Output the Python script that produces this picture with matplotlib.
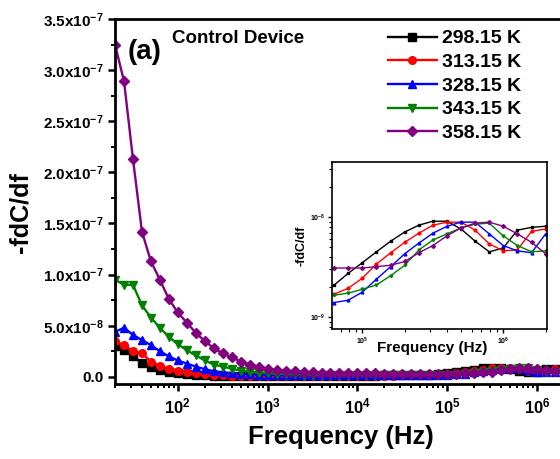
import matplotlib
matplotlib.use("Agg")
import matplotlib.pyplot as plt
from matplotlib.ticker import FixedLocator, NullFormatter, LogLocator
import numpy as np

# Frequency sweep (Hz)
freq = [20.0, 25.2, 31.7, 39.9, 50.2, 63.2, 79.6, 100, 126, 159,
        200, 252, 317, 399, 502, 632, 796, 1000, 1260, 1590,
        2000, 2520, 3170, 3990, 5020, 6320, 7960, 10000, 12600, 15900,
        20000, 25200, 31700, 39900, 50200, 63200, 79600, 100000, 126000, 159000,
        200000, 252000, 317000, 399000, 502000, 632000, 796000, 1000000, 1260000, 1590000,
        2000000]

# -fdC/df values in units of 1e-8
t298 = [3.0, 2.6, 2.0, 1.4, 0.95, 0.65, 0.5, 0.35, 0.25, 0.2,
        0.15, 0.13, 0.12, 0.11, 0.10, 0.10, 0.10, 0.10, 0.10, 0.10,
        0.10, 0.10, 0.10, 0.10, 0.10, 0.11, 0.11, 0.12, 0.12, 0.13,
        0.14, 0.15, 0.16, 0.18, 0.19, 0.21, 0.275, 0.35, 0.45, 0.575,
        0.71, 0.83, 0.91, 0.91, 0.76, 0.575, 0.45, 0.49, 0.74, 0.79,
        0.81]
t313 = [3.5, 3.1, 2.5, 2.3, 1.5, 1.1, 0.8, 0.6, 0.45, 0.35,
        0.25, 0.2, 0.15, 0.13, 0.12, 0.11, 0.10, 0.10, 0.10, 0.10,
        0.10, 0.10, 0.10, 0.10, 0.10, 0.10, 0.10, 0.10, 0.11, 0.11,
        0.12, 0.13, 0.14, 0.15, 0.16, 0.17, 0.195, 0.245, 0.34, 0.44,
        0.56, 0.69, 0.83, 0.89, 0.89, 0.74, 0.54, 0.46, 0.47, 0.72,
        0.76]
t328 = [4.4, 4.8, 4.1, 3.6, 3.1, 2.5, 2.0, 1.6, 1.3, 1.0,
        0.75, 0.55, 0.45, 0.35, 0.3, 0.25, 0.22, 0.2, 0.18, 0.17,
        0.16, 0.15, 0.15, 0.14, 0.14, 0.14, 0.14, 0.14, 0.14, 0.14,
        0.14, 0.14, 0.14, 0.14, 0.14, 0.14, 0.148, 0.178, 0.24, 0.32,
        0.43, 0.55, 0.69, 0.81, 0.89, 0.89, 0.68, 0.52, 0.46, 0.44,
        0.68]
t343 = [9.5, 9.0, 9.0, 7.0, 5.8, 4.8, 3.9, 3.2, 2.6, 2.1,
        1.6, 1.2, 1.0, 0.8, 0.6, 0.5, 0.42, 0.36, 0.31, 0.27,
        0.24, 0.22, 0.2, 0.19, 0.18, 0.17, 0.17, 0.17, 0.16, 0.16,
        0.16, 0.16, 0.16, 0.16, 0.16, 0.166, 0.174, 0.19, 0.21, 0.26,
        0.33, 0.47, 0.59, 0.68, 0.78, 0.85, 0.87, 0.65, 0.52, 0.45,
        0.46]
t358 = [32.5, 28.9, 21.3, 14.2, 11.3, 9.5, 7.6, 6.3, 5.3, 4.3,
        3.5, 2.8, 2.3, 1.9, 1.5, 1.2, 1.0, 0.8, 0.7, 0.6,
        0.55, 0.5, 0.45, 0.42, 0.4, 0.38, 0.36, 0.35, 0.34, 0.33,
        0.32, 0.32, 0.31, 0.31, 0.31, 0.31, 0.31, 0.31, 0.32, 0.33,
        0.36, 0.44, 0.52, 0.65, 0.78, 0.87, 0.89, 0.81, 0.68, 0.56,
        0.43]

labels = ["298.15 K", "313.15 K", "328.15 K", "343.15 K", "358.15 K"]
colors = ["black", "red", "blue", "green", "purple"]
markers = ["s", "o", "^", "v", "D"]

yticks = [0, 5e-8, 1e-7, 1.5e-7, 2e-7, 2.5e-7, 3e-7, 3.5e-7]
ytick_labels = ["0.0", r"$5.0x10^{-8}$", r"$1.0x10^{-7}$", r"$1.5x10^{-7}$",
                r"$2.0x10^{-7}$", r"$2.5x10^{-7}$", r"$3.0x10^{-7}$", r"$3.5x10^{-7}$"]
xticks = [1e2, 1e3, 1e4, 1e5, 1e6]
xtick_labels = [r"$10^{2}$", r"$10^{3}$", r"$10^{4}$", r"$10^{5}$", r"$10^{6}$"]
inset_xticks = [1e5, 1e6]
inset_xtick_labels = [r"$10^{5}$", r"$10^{6}$"]
inset_yticks = [1e-9, 1e-8]
inset_ytick_labels = [r"$10^{-9}$", r"$10^{-8}$"]

plt.rcParams["font.family"] = ["Liberation Sans", "DejaVu Sans"]
plt.rcParams["font.weight"] = "bold"
plt.rcParams["mathtext.fontset"] = "custom"
plt.rcParams["mathtext.rm"] = "Liberation Sans:bold"
plt.rcParams["mathtext.bf"] = "Liberation Sans:bold"
plt.rcParams["mathtext.it"] = "Liberation Sans:bold"

series = [np.array(s) * 1e-8 for s in (t298, t313, t328, t343, t358)]

fig = plt.figure(figsize=(5.6, 4.59), dpi=100)
ax = fig.add_axes([0.2054, 0.1634, 0.805, 0.7952])

for y, lab, c, m in zip(series, labels, colors, markers):
    ms = 5.5 if m != "D" else 5
    ax.plot(freq, y, color=c, marker=m, markersize=ms, linewidth=1.7, label=lab)

ax.set_xscale("log")
ax.set_xlim(20, 2.1e6)
ax.set_ylim(-7e-9, 3.5e-7)
ax.xaxis.set_major_locator(FixedLocator(xticks))
ax.set_xticklabels(xtick_labels)
ax.xaxis.set_minor_locator(LogLocator(base=10, subs=np.arange(2, 10)))
ax.xaxis.set_minor_formatter(NullFormatter())
ax.set_yticks(yticks)
ax.set_yticklabels(ytick_labels)
ax.yaxis.set_minor_locator(FixedLocator([2.5e-8, 7.5e-8, 1.25e-7, 1.75e-7, 2.25e-7, 2.75e-7, 3.25e-7]))
ax.tick_params(which="major", direction="out", length=5, width=1.8, labelsize=11)
ax.tick_params(which="minor", direction="out", length=3, width=1.4)
ax.tick_params(axis="x", pad=4, labelsize=12)
for sp in ax.spines.values():
    sp.set_linewidth(2)

ax.set_xlabel("Frequency (Hz)", fontsize=18.5, fontweight="bold", labelpad=6)
ax.set_ylabel("-fdC/df", fontsize=18, fontweight="bold")
ax.yaxis.set_label_coords(-0.182, 0.47)

ax.text(0.029, 0.91, "(a)", transform=ax.transAxes, fontsize=20, fontweight="bold", va="center")
ax.text(0.126, 0.946, "Control Device", transform=ax.transAxes, fontsize=13.5, fontweight="bold", va="center")

ax.legend(loc="upper left", bbox_to_anchor=(0.693, 0.935), bbox_transform=fig.transFigure,
          frameon=False, fontsize=14, handlelength=2.5, handletextpad=0.26,
          labelspacing=0.31, borderpad=0, borderaxespad=0)

# inset on log-log scale
axin = fig.add_axes([0.593, 0.283, 0.384, 0.364])
for y, c, m in zip(series, colors, markers):
    axin.plot(freq, y, color=c, marker=m, markersize=2, linewidth=1.0)
axin.set_xscale("log")
axin.set_yscale("log")
axin.set_xlim(6.1e4, 2.05e6)
axin.set_ylim(7.6e-10, 3.55e-8)
axin.xaxis.set_major_locator(FixedLocator(inset_xticks))
axin.set_xticklabels(inset_xtick_labels)
axin.yaxis.set_major_locator(FixedLocator(inset_yticks))
axin.set_yticklabels(inset_ytick_labels)
axin.xaxis.set_minor_locator(LogLocator(base=10, subs=np.arange(2, 10)))
axin.yaxis.set_minor_locator(LogLocator(base=10, subs=np.arange(2, 10)))
axin.xaxis.set_minor_formatter(NullFormatter())
axin.yaxis.set_minor_formatter(NullFormatter())
axin.tick_params(which="major", direction="out", length=3, width=1, labelsize=5, pad=2)
axin.tick_params(which="minor", direction="out", length=2, width=0.8)
for sp in axin.spines.values():
    sp.set_linewidth(1.2)
axin.set_xlabel("Frequency (Hz)", fontsize=11, fontweight="bold")
axin.xaxis.set_label_coords(0.465, -0.072)
axin.set_ylabel("-fdC/df", fontsize=9, fontweight="bold", labelpad=2)

fig.savefig("out.png", dpi=100)
